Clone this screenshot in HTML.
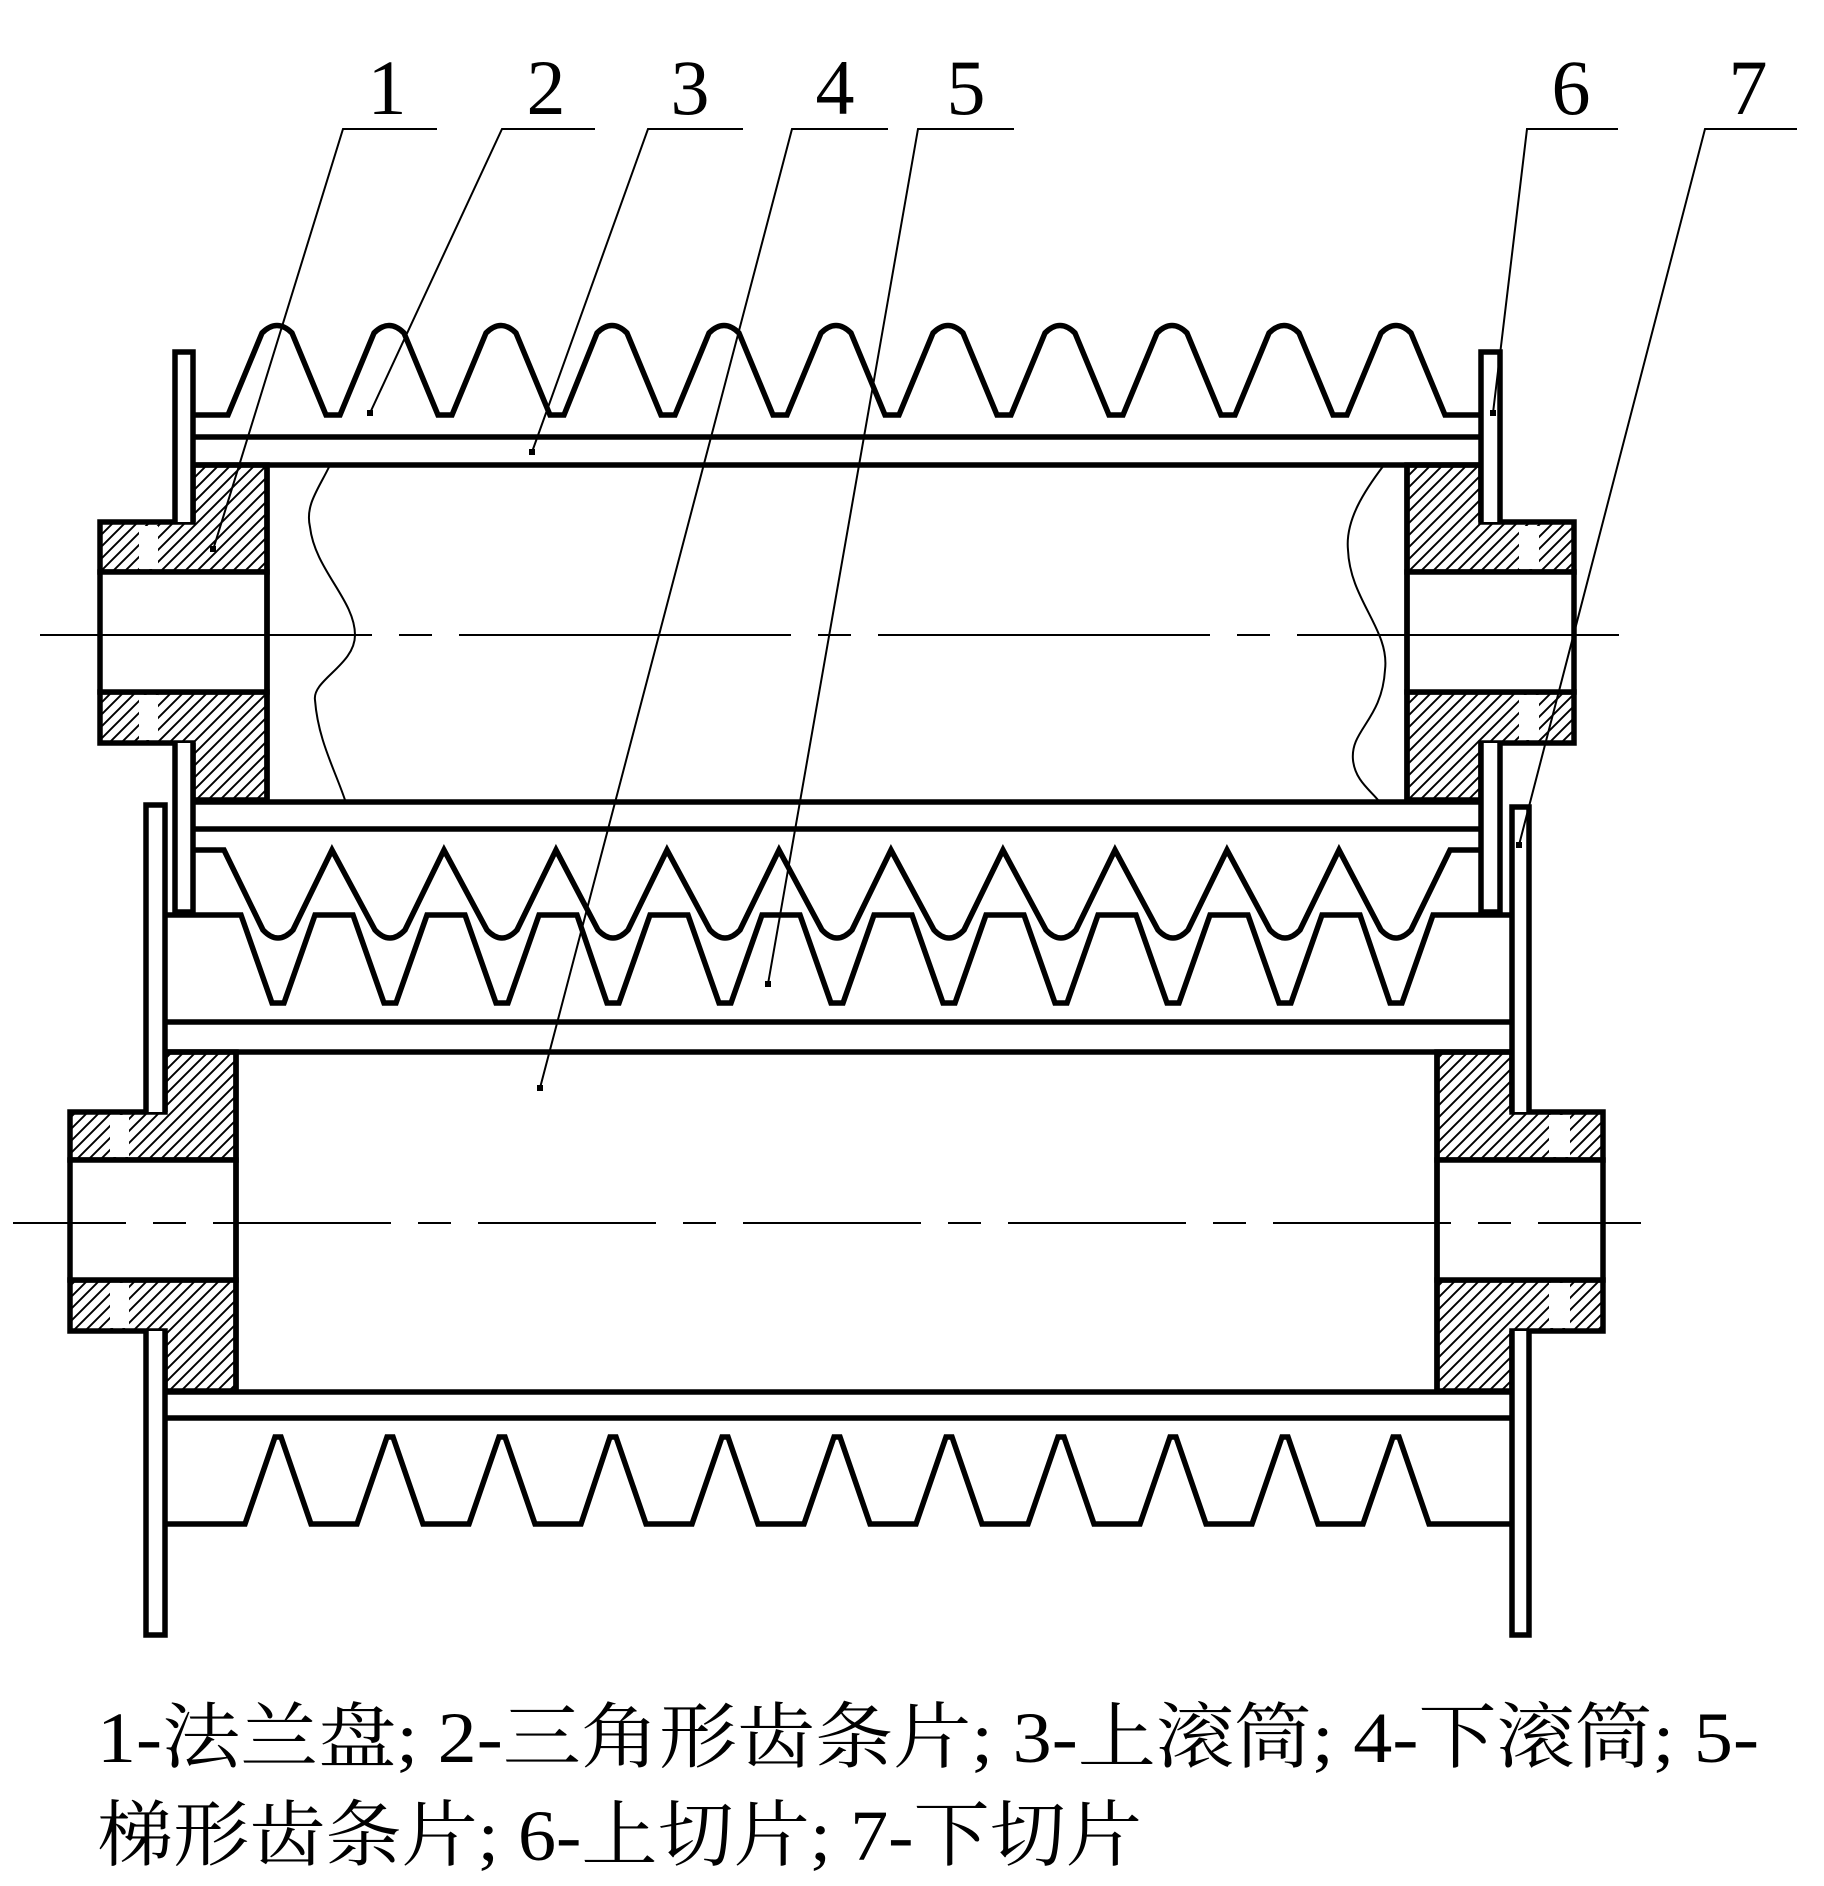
<!DOCTYPE html>
<html><head><meta charset="utf-8"><style>
html,body{margin:0;padding:0;background:#fff;}
svg{display:block;}
.lbl{font-family:"Liberation Serif","Times New Roman",serif;font-size:78px;}
.cap{font-family:"Liberation Serif","Noto Serif CJK SC",serif;font-size:72px;}
</style></head><body>
<svg width="1824" height="1886" viewBox="0 0 1824 1886" xmlns="http://www.w3.org/2000/svg">
<defs>
<pattern id="h" patternUnits="userSpaceOnUse" width="12" height="12">
<path d="M-3,3 L3,-3 M0,12 L12,0 M9,15 L15,9" stroke="#000" stroke-width="1.9"/>
</pattern>
</defs>
<rect width="1824" height="1886" fill="#fff"/>

<g fill="none" stroke="#000" stroke-width="5.5" stroke-linejoin="miter">
<path d="M193,415 L228,415
L262,333 Q277,318 292,333 L326,415 L340,415
L374,333 Q389,318 404,333 L438,415 L452,415
L486,333 Q501,318 516,333 L550,415 L564,415
L597,333 Q612,318 627,333 L661,415 L675,415
L709,333 Q724,318 739,333 L773,415 L787,415
L821,333 Q836,318 851,333 L885,415 L899,415
L933,333 Q948,318 963,333 L997,415 L1011,415
L1045,333 Q1060,318 1075,333 L1109,415 L1123,415
L1157,333 Q1172,318 1187,333 L1221,415 L1235,415
L1269,333 Q1284,318 1299,333 L1333,415 L1347,415
L1381,333 Q1396,318 1411,333 L1445,415 L1481,415"/>
<path d="M193,850 L224,850
L263,930 Q278,946 293,930 L332,850
L375,930 Q390,946 405,930 L444,850
L487,930 Q502,946 517,930 L556,850
L598,930 Q613,946 628,930 L667,850
L710,930 Q725,946 740,930 L779,850
L822,930 Q837,946 852,930 L891,850
L934,930 Q949,946 964,930 L1003,850
L1046,930 Q1061,946 1076,930 L1115,850
L1158,930 Q1173,946 1188,930 L1227,850
L1270,930 Q1285,946 1300,930 L1339,850
L1381,930 Q1396,946 1411,930 L1450,850 L1481,850"/>
<path d="M165,915 L241,915
L272,1003 L284,1003 L315,915 L353,915
L384,1003 L396,1003 L427,915 L465,915
L496,1003 L508,1003 L539,915 L577,915
L607,1003 L619,1003 L650,915 L688,915
L719,1003 L731,1003 L762,915 L800,915
L831,1003 L843,1003 L874,915 L912,915
L943,1003 L955,1003 L986,915 L1024,915
L1055,1003 L1067,1003 L1098,915 L1136,915
L1167,1003 L1179,1003 L1210,915 L1248,915
L1279,1003 L1291,1003 L1322,915 L1360,915
L1390,1003 L1402,1003 L1433,915 L1512,915"/>
<path d="M165,1524 L245,1524
L275,1437 L281,1437 L311,1524 L357,1524
L387,1437 L393,1437 L423,1524 L469,1524
L499,1437 L505,1437 L535,1524 L581,1524
L610,1437 L616,1437 L646,1524 L692,1524
L722,1437 L728,1437 L758,1524 L804,1524
L834,1437 L840,1437 L870,1524 L916,1524
L946,1437 L952,1437 L982,1524 L1028,1524
L1058,1437 L1064,1437 L1094,1524 L1140,1524
L1170,1437 L1176,1437 L1206,1524 L1252,1524
L1282,1437 L1288,1437 L1318,1524 L1363,1524
L1393,1437 L1399,1437 L1429,1524 L1512,1524"/>
<path d="M193,437 H1481 M193,465 H1481 M193,802 H1481 M193,829 H1481"/>
<path d="M165,1022 H1512 M165,1052 H1512 M165,1392 H1512 M165,1418 H1512"/>
</g>

<g stroke="#000" stroke-width="5.5" fill="url(#h)">
<path d="M193,465 H267 V572 H100 V522 H193 Z"/>
<path d="M100,692 H267 V800 H193 V743 H100 Z"/>
<path d="M1481,465 H1407 V572 H1574 V522 H1481 Z"/>
<path d="M1574,692 H1407 V800 H1481 V743 H1574 Z"/>
<path d="M165,1052 H236 V1160 H70 V1112 H165 Z"/>
<path d="M70,1280 H236 V1391 H165 V1331 H70 Z"/>
<path d="M1512,1052 H1437 V1160 H1603 V1112 H1512 Z"/>
<path d="M1603,1280 H1437 V1391 H1512 V1331 H1603 Z"/>
</g>
<g fill="#fff">
<rect x="139" y="526" width="19" height="43"/><rect x="139" y="695" width="19" height="45"/>
<rect x="1519" y="526" width="20" height="43"/><rect x="1519" y="695" width="20" height="45"/>
<rect x="110" y="1115" width="19" height="42"/><rect x="110" y="1283" width="19" height="45"/>
<rect x="1549" y="1115" width="21" height="42"/><rect x="1549" y="1283" width="21" height="45"/>
</g>
<g fill="#fff" stroke="#000" stroke-width="5.5">
<rect x="100" y="572" width="167" height="120"/>
<rect x="1407" y="572" width="167" height="120"/>
<rect x="70" y="1160" width="166" height="120"/>
<rect x="1437" y="1160" width="166" height="120"/>
<path d="M175,522 V352 H193 V522 M175,743 V912 H193 V743"/>
<path d="M1481,522 V352 H1500 V522 M1481,743 V912 H1500 V743"/>
<path d="M146,1112 V805 H165 V1112 M146,1331 V1635 H165 V1331"/>
<path d="M1512,1112 V807 H1529 V1112 M1512,1331 V1635 H1529 V1331"/>
</g>
<g fill="none" stroke="#000" stroke-width="5.5">
<path d="M267,465 V800 M1407,465 V800 M236,1052 V1391 M1437,1052 V1391"/>
</g>

<g fill="none" stroke="#000" stroke-width="2">
<path d="M330,465 C318,490 305,505 310,527 C315,570 355,600 355,635 C355,665 312,680 315,700 C318,740 335,770 345,800"/>
<path d="M1384,465 C1365,490 1345,520 1348,550 C1350,600 1390,630 1385,670 C1382,720 1350,730 1353,760 C1355,780 1370,790 1378,800"/>
</g>

<g stroke="#000" stroke-width="2">
<line x1="40" y1="635" x2="1619" y2="635" stroke-dasharray="332 27 33 27"/>
<line x1="13" y1="1223" x2="1641" y2="1223" stroke-dasharray="113 27 33 27 178 27 33 27 178 27 33 27 178 27 33 27 178 27 33 27 178 27 33 27 178 27 33 27 178 27 33 27 178 27 33 27"/>
</g>

<g fill="none" stroke="#000" stroke-width="2">
<path d="M437,129 H343 L213,550"/>
<path d="M595,129 H502 L370,413"/>
<path d="M743,129 H648 L532,452"/>
<path d="M888,129 H792 L540,1088"/>
<path d="M1014,129 H918 L768,984"/>
<path d="M1618,129 H1527 L1493,413"/>
<path d="M1797,129 H1705 L1519,845"/>
</g>
<g fill="#000">
<rect x="210" y="546" width="6" height="6"/><rect x="367" y="410" width="6" height="6"/>
<rect x="529" y="449" width="6" height="6"/><rect x="537" y="1085" width="6" height="6"/>
<rect x="765" y="981" width="6" height="6"/><rect x="1490" y="410" width="6" height="6"/>
<rect x="1516" y="842" width="6" height="6"/>
</g>

<g class="lbl" text-anchor="middle" fill="#000">
<text x="387" y="114">1</text>
<text x="546" y="114">2</text>
<text x="690" y="114">3</text>
<text x="835" y="114">4</text>
<text x="966" y="114">5</text>
<text x="1571" y="114">6</text>
<text x="1748" y="114">7</text>
</g>

<g class="cap" fill="#000">
<text x="97" y="1762" textLength="1662" lengthAdjust="spacingAndGlyphs">1-法兰盘; 2-三角形齿条片; 3-上滚筒; 4-下滚筒; 5-</text>
<text x="97" y="1860" textLength="1045" lengthAdjust="spacingAndGlyphs">梯形齿条片; 6-上切片; 7-下切片</text>
</g>
</svg>
</body></html>
